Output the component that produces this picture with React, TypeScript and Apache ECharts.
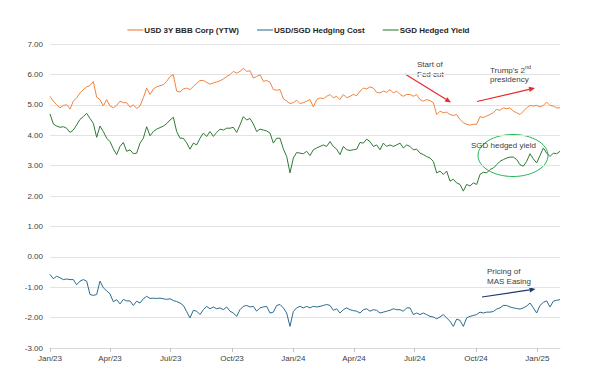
import React, { useEffect, useRef } from "react";
import * as echarts from "echarts";

// 5-day sampling grid starting 1 Jan 2023
const START = "2023-01-01";
const STEP_DAYS = 5;

const seriesNames = ["USD 3Y BBB Corp (YTW)", "USD/SGD Hedging Cost", "SGD Hedged Yield"];

const usdBBB = [
  5.28, 5.12, 5.0, 4.9, 4.98, 5.0, 4.86, 5.12, 5.23, 5.39,
  5.5, 5.59, 5.63, 5.77, 5.25, 5.17, 4.96, 5.17, 4.96, 4.9,
  4.98, 5.12, 5.07, 5.07, 4.92, 5.0, 4.88, 4.96, 5.23, 5.55,
  5.34, 5.52, 5.59, 5.63, 5.66, 5.77, 5.93, 5.99, 5.45, 5.42,
  5.52, 5.55, 5.5, 5.6, 5.7, 5.8, 5.8, 5.74, 5.68, 5.72,
  5.75, 5.79, 5.85, 5.93, 5.99, 6.1, 6.04, 6.1, 6.2, 6.1,
  6.12, 5.88, 5.93, 5.99, 5.77, 5.8, 5.74, 5.5, 5.48, 5.5,
  5.2, 5.12, 5.04, 5.07, 5.15, 5.04,
  5.07, 5.12, 5.17, 4.93, 5.17, 5.23, 5.2, 5.28, 5.34, 5.23,
  5.28, 5.17, 5.34, 5.23, 5.28, 5.34, 5.3, 5.45, 5.55, 5.52,
  5.59, 5.55, 5.41, 5.39, 5.45, 5.41, 5.5, 5.39, 5.45, 5.34,
  5.28, 5.34, 5.34, 5.28, 5.34, 5.17, 5.12, 5.17, 5.14, 5.07,
  4.68, 4.79, 4.74, 4.76, 4.68, 4.65, 4.68, 4.52, 4.41, 4.36,
  4.33, 4.36, 4.36, 4.61, 4.58, 4.63, 4.68, 4.74, 4.85, 4.82,
  4.9, 4.87, 4.9, 4.79, 4.74, 4.68, 4.79, 4.9, 4.98, 4.96,
  4.98, 4.93, 4.98, 5.09, 4.98, 4.96, 4.9, 4.9,
];

const hedgingCost = [
  -0.58, -0.72, -0.64, -0.69, -0.75, -0.73, -0.75, -0.75, -0.92, -0.8,
  -0.75, -0.8, -1.24, -1.27, -1.24, -0.8, -1.02, -1.12, -1.22, -1.48,
  -1.41, -1.55, -1.4, -1.45, -1.45, -1.6, -1.46, -1.52, -1.38, -1.3,
  -1.37, -1.36, -1.37, -1.36, -1.38, -1.4, -1.38, -1.44, -1.47, -1.52,
  -1.6, -1.8, -2.01, -1.76, -1.79, -1.9, -1.74, -1.63, -1.71, -1.65,
  -1.71, -1.68, -1.74, -1.65, -1.79, -1.85, -1.96, -1.74, -1.63, -1.6,
  -1.65, -1.63, -1.79, -1.68, -1.65, -1.63, -1.85, -1.82, -1.6, -1.57,
  -1.68, -1.85, -2.29, -1.8, -1.68, -1.63,
  -1.68, -1.63, -1.68, -1.63, -1.65, -1.63, -1.6, -1.57, -1.6, -1.76,
  -1.71, -1.85, -1.74, -1.68, -1.74, -1.77, -1.79, -1.85, -1.74, -1.71,
  -1.79, -1.74, -1.76, -1.85, -1.82, -1.79, -1.76, -1.71, -1.74, -1.74,
  -1.79, -1.68, -1.68, -1.9, -1.85, -1.9, -1.85, -1.9, -1.96, -1.98,
  -2.04, -1.98, -1.9, -2.01, -2.12, -2.29, -2.05, -2.09, -2.29, -2.01,
  -1.96, -1.93, -1.9, -1.82, -1.85, -1.82, -1.82, -1.8, -1.72, -1.68,
  -1.6, -1.6, -1.65, -1.68, -1.7, -1.72, -1.68, -1.62, -1.52, -1.68,
  -1.85, -1.6, -1.5, -1.45, -1.65, -1.46, -1.43, -1.41,
];

const sgdHedged = [
  4.7, 4.37, 4.3, 4.26, 4.28, 4.23, 4.09, 4.17, 4.34, 4.52,
  4.61, 4.72, 4.55, 4.39, 3.93, 4.3, 4.12, 3.9, 3.79, 3.55,
  3.36, 3.63, 3.76, 3.47, 3.52, 3.39, 3.41, 3.74, 3.9, 4.28,
  3.98, 4.12, 4.2, 4.25, 4.3, 4.38, 4.5, 4.59, 4.12, 3.9,
  3.9, 3.75, 3.54, 3.74, 3.68, 3.9, 4.07, 3.96, 4.12, 3.96,
  4.09, 4.2, 4.17, 4.23, 4.23, 4.26, 4.09, 4.34, 4.61, 4.5,
  4.55, 4.37, 4.12, 4.2, 4.17, 4.14, 4.07, 3.74, 3.9, 3.9,
  3.55, 3.3, 2.76, 3.25, 3.43, 3.41,
  3.39, 3.47, 3.33, 3.52, 3.58, 3.63, 3.68, 3.63, 3.79, 3.63,
  3.54, 3.36, 3.63, 3.52, 3.5, 3.52, 3.54, 3.76, 3.74, 3.87,
  3.79, 3.63, 3.68, 3.52, 3.74, 3.63, 3.68, 3.63, 3.68, 3.74,
  3.58, 3.68, 3.63, 3.52, 3.54, 3.41, 3.36, 3.3, 3.25, 3.14,
  2.76, 2.82, 2.71, 2.82, 2.49, 2.55, 2.43, 2.38, 2.16, 2.38,
  2.33, 2.43, 2.38, 2.71, 2.78, 2.76, 2.87, 2.92, 3.03, 3.14,
  3.2, 3.25, 3.28, 3.28, 3.2, 3.03, 2.98, 3.14, 3.39, 3.22,
  3.09, 3.33, 3.58, 3.41, 3.3, 3.41, 3.39, 3.47,
];

const tickDates = [
  "2023-01-01", "2023-04-01", "2023-07-01", "2023-10-01",
  "2024-01-01", "2024-04-01", "2024-07-01", "2024-10-01", "2025-01-01",
];
const tickLabels = ["Jan/23", "Apr/23", "Jul/23", "Oct/23", "Jan/24", "Apr/24", "Jul/24", "Oct/24", "Jan/25"];

const lineColors = ["#F0843F", "#2B6C8E", "#2F7A34"];
const legendColors = ["#F6B892", "#8FB3C6", "#8DBB8F"];

const DAY = 86400000;
const startTs = Date.parse(START + "T00:00:00Z");
const toPairs = (vals: number[]) => vals.map((v, i) => [startTs + i * STEP_DAYS * DAY, v]);
const tickTs = tickDates.map((d) => Date.parse(d + "T00:00:00Z"));

function arrow(x1: number, y1: number, x2: number, y2: number, color: string, w = 1.2) {
  const ang = Math.atan2(y2 - y1, x2 - x1);
  const len = 6;
  const hw = 2.6;
  const bx = x2 - len * Math.cos(ang);
  const by = y2 - len * Math.sin(ang);
  const px = -Math.sin(ang) * hw;
  const py = Math.cos(ang) * hw;
  return [
    { type: "line", shape: { x1, y1, x2: bx, y2: by }, style: { stroke: color, lineWidth: w } },
    {
      type: "polygon",
      shape: { points: [[x2, y2], [bx + px, by + py], [bx - px, by - py]] },
      style: { fill: color },
    },
  ];
}

const annoFont = "'Liberation Sans', Arial, sans-serif";
const annoText = (x: number, y: number, text: string) => ({
  type: "text",
  x,
  y,
  style: { text, fill: "#404040", fontSize: 8, fontFamily: annoFont, textVerticalAlign: "middle" },
});

export default function App() {
  const ref = useRef<HTMLDivElement>(null);
  useEffect(() => {
    if (!ref.current) return;
    const chart = echarts.init(ref.current, null, { renderer: "svg" });
    const lastTs = startTs + (usdBBB.length - 1) * STEP_DAYS * DAY;
    const dataSets = [usdBBB, hedgingCost, sgdHedged];
    chart.setOption({
      animation: false,
      backgroundColor: "#ffffff",
      textStyle: { fontFamily: annoFont },
      legend: {
        top: 21,
        left: "center",
        itemWidth: 16,
        itemHeight: 2,
        itemGap: 18,
        icon: "rect",
        textStyle: { fontSize: 8, fontWeight: "bold", color: "#262626", padding: [0, 0, 0, -4] },
        data: seriesNames.map((n, i) => ({ name: n, itemStyle: { color: legendColors[i] } })),
      },
      grid: { left: 50, right: 37, top: 44, bottom: 37 },
      xAxis: {
        type: "value",
        min: startTs,
        max: lastTs,
        axisLine: { show: true, onZero: false, lineStyle: { color: "#d9d9d9", width: 1 } },
        axisTick: { show: true, length: 4, lineStyle: { color: "#bfbfbf" }, customValues: tickTs },
        splitLine: { show: false },
        axisLabel: {
          customValues: tickTs,
          fontSize: 8,
          color: "#404040",
          margin: 6,
          formatter: (v: number) => {
            const idx = tickTs.findIndex((t) => Math.abs(t - v) < DAY);
            return idx >= 0 ? tickLabels[idx] : "";
          },
        },
      },
      yAxis: {
        type: "value",
        min: -3,
        max: 7,
        interval: 1,
        axisLine: { show: false },
        axisTick: { show: false },
        splitLine: { lineStyle: { color: "#e3e3e3", width: 1 } },
        axisLabel: { fontSize: 8, color: "#404040", margin: 7, formatter: (v: number) => v.toFixed(2) },
      },
      series: seriesNames.map((n, i) => ({
        name: n,
        type: "line",
        data: toPairs(dataSets[i]),
        showSymbol: false,
        symbol: "none",
        lineStyle: { color: lineColors[i], width: 1 },
        itemStyle: { color: lineColors[i] },
        z: i === 1 ? 2 : 3,
      })),
      graphic: [
        annoText(417, 64, "Start of"),
        annoText(417, 74, "Fed cut"),
        ...arrow(405, 74, 451, 102.5, "#E8282B"),
        {
          type: "text",
          x: 490,
          y: 70,
          style: {
            text: "Trump's 2{sup|nd}",
            fill: "#404040",
            fontSize: 8,
            fontFamily: annoFont,
            textVerticalAlign: "middle",
            rich: { sup: { fontSize: 5.5, fill: "#404040", fontFamily: annoFont, padding: [0, 0, 6, 0] } },
          },
        },
        annoText(490, 79.5, "presidency"),
        ...arrow(477, 101.5, 535, 88, "#E8282B"),
        {
          type: "ellipse",
          shape: { cx: 513, cy: 155.5, rx: 35, ry: 21 },
          style: { fill: "none", stroke: "#27B454", lineWidth: 1 },
        },
        annoText(471, 145, "SGD hedged yield"),
        annoText(487, 271.5, "Pricing of"),
        annoText(487, 281.5, "MAS Easing"),
        ...arrow(482, 297, 535.5, 289, "#1F3A6E"),
      ],
    });
    return () => chart.dispose();
  }, []);
  return <div ref={ref} style={{ position: "fixed", left: 0, top: 0, width: 597, height: 385 }} />;
}
